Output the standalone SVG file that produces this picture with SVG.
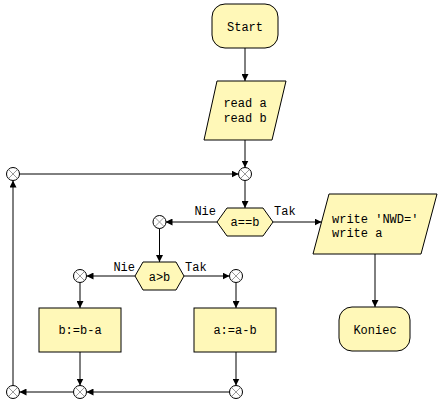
<svg xmlns="http://www.w3.org/2000/svg" width="441" height="406" viewBox="0 0 441 406">
<style>
.shape{fill:#FFF8B8;stroke:#000;stroke-width:1}
.jc{fill:#fff;stroke:#000;stroke-width:1}
.jx{stroke:#999;stroke-width:1}
.t{font-family:"Liberation Mono","Courier New",monospace;font-size:12px;fill:#000}
.c{text-anchor:middle}
.e{text-anchor:end}
.ln{fill:none;stroke:#000;stroke-width:1;marker-end:url(#ah)}
</style>
<defs>
<marker id="ah" viewBox="0 0 7 7" refX="7" refY="3.5" markerWidth="7" markerHeight="7" markerUnits="userSpaceOnUse" orient="auto">
<path d="M0,0 L7,3.5 L0,7 z" fill="#000"/>
</marker>
<g id="jn">
<circle class="jc" cx="0" cy="0" r="6.5"/>
<path class="jx" d="M-4.2,-4.2 L4.2,4.2 M-4.2,4.2 L4.2,-4.2"/>
</g>
</defs>
<rect width="441" height="406" fill="#fff"/>
<g id="connectors">
<path class="ln" d="M245,48 V81"/>
<path class="ln" d="M245,140 V167.5"/>
<path class="ln" d="M19.5,174 H238.5"/>
<path class="ln" d="M245,180.5 V208"/>
<path class="ln" d="M217,222 H165.5"/>
<path class="ln" d="M273,222 H321.5"/>
<path class="ln" d="M159.5,228.5 V262"/>
<path class="ln" d="M135,276 H86.5"/>
<path class="ln" d="M184,276 H229.5"/>
<path class="ln" d="M80,282.5 V308"/>
<path class="ln" d="M236,282.5 V308"/>
<path class="ln" d="M80,352 V385.5"/>
<path class="ln" d="M236,352 V385.5"/>
<path class="ln" d="M229.5,392 H86.5"/>
<path class="ln" d="M73.5,392 H19.5"/>
<path class="ln" d="M13,385.5 V180.5"/>
<path class="ln" d="M375,254 V307"/>
<text class="t e" x="216" y="215">Nie</text>
<text class="t" x="274" y="215">Tak</text>
<text class="t e" x="135" y="270.5">Nie</text>
<text class="t" x="185" y="270.5">Tak</text>
</g>
<g id="start">
<rect class="shape" x="212" y="4" width="66" height="44" rx="13"/>
<text class="t c" x="245" y="31">Start</text>
</g>
<g id="read">
<polygon class="shape" points="217,81 286,81 272,140 204,140"/>
<text class="t c" x="245" y="107">read a</text>
<text class="t c" x="245" y="122">read b</text>
</g>
<g id="j1"><use href="#jn" x="245" y="174"/></g>
<g id="jtl"><use href="#jn" x="13" y="174"/></g>
<g id="cond1">
<polygon class="shape" points="217,222 227,208 263,208 273,222 263,236 227,236"/>
<text class="t c" x="245" y="226">a==b</text>
</g>
<g id="j2"><use href="#jn" x="159.5" y="222"/></g>
<g id="write">
<polygon class="shape" points="329,194 437,194 421,254 313,254"/>
<text class="t" x="332" y="223">write 'NWD='</text>
<text class="t" x="332" y="237">write a</text>
</g>
<g id="koniec">
<rect class="shape" x="339" y="307" width="71" height="44" rx="13"/>
<text class="t c" x="375" y="334">Koniec</text>
</g>
<g id="cond2">
<polygon class="shape" points="135,276 143,262 176,262 184,276 176,290 143,290"/>
<text class="t c" x="159.5" y="280.5">a&gt;b</text>
</g>
<g id="j3"><use href="#jn" x="80" y="276"/></g>
<g id="j4"><use href="#jn" x="236" y="276"/></g>
<g id="bsub">
<rect class="shape" x="39" y="308" width="82" height="44"/>
<text class="t c" x="80" y="334">b:=b-a</text>
</g>
<g id="asub">
<rect class="shape" x="194" y="308" width="82" height="44"/>
<text class="t c" x="235" y="334">a:=a-b</text>
</g>
<g id="j5"><use href="#jn" x="80" y="392"/></g>
<g id="j6"><use href="#jn" x="236" y="392"/></g>
<g id="j7"><use href="#jn" x="13" y="392"/></g>
</svg>
